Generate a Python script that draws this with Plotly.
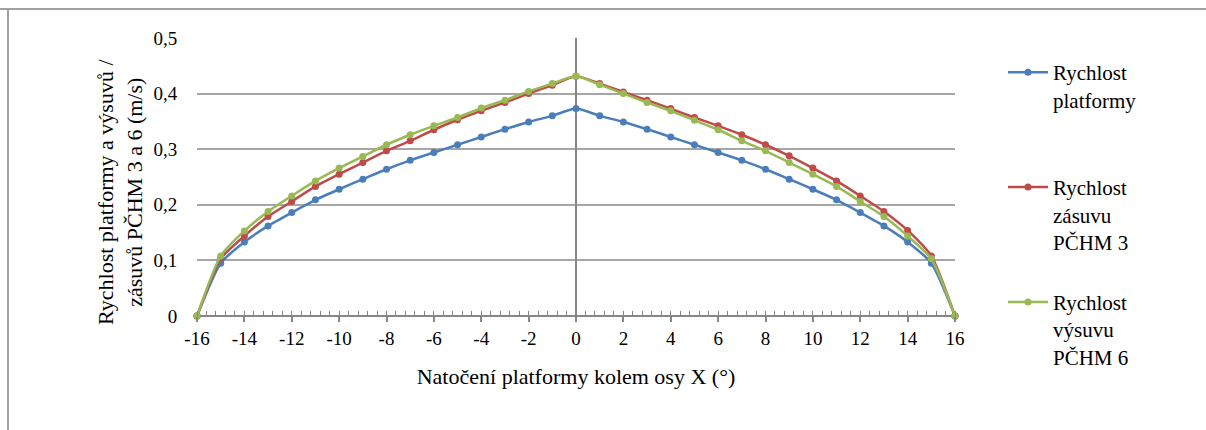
import plotly.graph_objects as go

# --- data ---
uhel = list(range(-16, 17))
rychlost_platformy = [0, 0.095, 0.133, 0.162, 0.186, 0.209, 0.228, 0.246, 0.264, 0.280, 0.294,
                      0.308, 0.322, 0.336, 0.349, 0.360, 0.373, 0.360, 0.349, 0.336, 0.322, 0.308,
                      0.294, 0.280, 0.264, 0.246, 0.228, 0.209, 0.186, 0.162, 0.133, 0.095, 0]
rychlost_zasuvu_3 = [0, 0.103, 0.144, 0.179, 0.206, 0.233, 0.255, 0.276, 0.297, 0.315, 0.335,
                     0.353, 0.369, 0.384, 0.400, 0.415, 0.431, 0.418, 0.403, 0.388, 0.373, 0.357,
                     0.342, 0.326, 0.308, 0.288, 0.266, 0.243, 0.216, 0.188, 0.154, 0.108, 0]
rychlost_vysuvu_6 = [0, 0.108, 0.153, 0.188, 0.216, 0.243, 0.266, 0.287, 0.308, 0.326, 0.342,
                     0.357, 0.374, 0.388, 0.404, 0.418, 0.431, 0.416, 0.400, 0.384, 0.369, 0.352,
                     0.335, 0.315, 0.297, 0.276, 0.255, 0.233, 0.206, 0.179, 0.144, 0.103, 0]

x_ticks = list(range(-16, 17, 2))
x_ticktext = [str(v) for v in x_ticks]
y_ticks = [0, 0.1, 0.2, 0.3, 0.4, 0.5]
y_ticktext = ["0", "0,1", "0,2", "0,3", "0,4", "0,5"]

series = [
    ("Rychlost<br>platformy<br> ", rychlost_platformy, "#4A7EBB"),
    ("Rychlost<br>zásuvu<br>PČHM 3", rychlost_zasuvu_3, "#BE4B48"),
    ("Rychlost<br>výsuvu<br>PČHM 6", rychlost_vysuvu_6, "#98B954"),
]
y_title = "Rychlost platformy a výsuvů /<br>zásuvů PČHM 3 a 6 (m/s)"
x_title = "Natočení platformy kolem osy X (°)"

FONT = "Liberation Serif, Times New Roman, serif"
fig = go.Figure()
for i, (name, vals, col) in enumerate(series):
    fig.add_trace(go.Scatter(
        x=uhel, y=vals, name=name, mode="lines+markers",
        line=dict(color=col, width=2.5, shape="spline", smoothing=0.6),
        marker=dict(color=col, size=7, symbol="circle"),
        cliponaxis=False, legendgroup=f"g{i}",
    ))

fig.update_layout(
    width=1206, height=430,
    margin=dict(l=197, r=251, t=38, b=114),
    paper_bgcolor="white", plot_bgcolor="white",
    font=dict(family=FONT, size=19, color="black"),
    showlegend=True,
    legend=dict(x=1.0 + 48/758, xanchor="left", xref="paper", y=1.0 - 14/278, yanchor="top",
                font=dict(family=FONT, size=21, color="black"), valign="top",
                tracegroupgap=30, itemwidth=40, bgcolor="rgba(0,0,0,0)", maxheight=420),
    xaxis=dict(range=[-16, 16], tickvals=x_ticks, ticktext=x_ticktext, ticks="outside", ticklen=5,
               tickcolor="#868686", tickwidth=1.5,
               minor=dict(dtick=0.4, tick0=0, ticks="inside", ticklen=5, tickcolor="#868686",
                          tickwidth=1.2, showgrid=False),
               showgrid=False, showline=False, zeroline=True, zerolinecolor="#868686",
               zerolinewidth=2,
               tickfont=dict(family=FONT, size=19),
               title=dict(text=x_title, font=dict(family=FONT, size=22), standoff=20)),
    yaxis=dict(range=[0, 0.5], tickvals=y_ticks, ticktext=y_ticktext, ticks="outside",
               ticklen=15, tickcolor="rgba(0,0,0,0)",
               showgrid=True, gridcolor="#A6A6A6", gridwidth=1.5,
               zeroline=True, zerolinecolor="#868686", zerolinewidth=2,
               showline=False, tickfont=dict(family=FONT, size=19)),
    annotations=[
        dict(text=y_title, xref="paper", yref="paper", x=(120-197)/758, y=(316-192)/278,
             xanchor="center", yanchor="middle", textangle=-90, showarrow=False,
             font=dict(family=FONT, size=22, color="black")),
    ],
    shapes=[
        dict(type="line", xref="paper", yref="paper", x0=-197/758, x1=(1206-197)/758,
             y0=(316-9)/278, y1=(316-9)/278, line=dict(color="#A0A0A0", width=2)),
        dict(type="line", xref="paper", yref="paper", x0=-(197-8)/758, x1=-(197-8)/758,
             y0=(316-9)/278, y1=-(430-316)/278, line=dict(color="#A0A0A0", width=2)),
    ],
)

fig.write_html("out.html")
